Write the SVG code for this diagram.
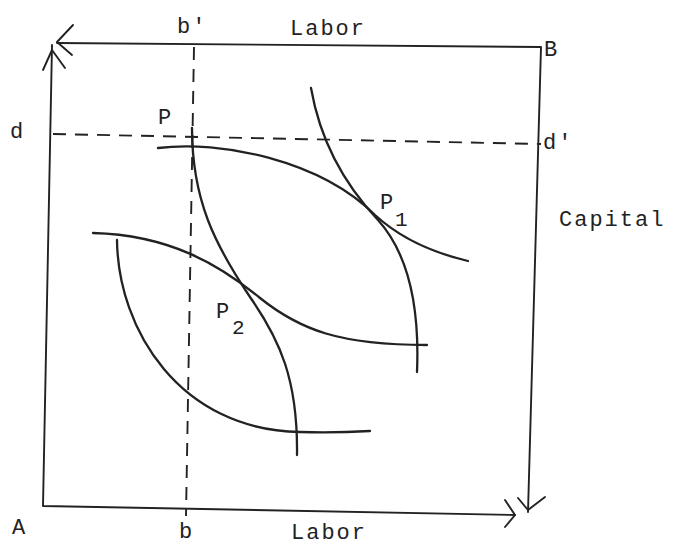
<svg xmlns="http://www.w3.org/2000/svg" width="675" height="547" viewBox="0 0 675 547">
<style>
.frame{fill:none;stroke:#222;stroke-width:1.9;stroke-linecap:round;stroke-linejoin:round}
.dash{fill:none;stroke:#222;stroke-width:1.9;stroke-dasharray:13 9}
.curve{fill:none;stroke:#222;stroke-width:2.3;stroke-linecap:round}
.lbl{font-family:"Liberation Mono","DejaVu Sans Mono",monospace;font-size:22px;fill:#222;letter-spacing:2px}
.sub{font-family:"Liberation Mono","DejaVu Sans Mono",monospace;font-size:21px;fill:#222}
</style>
<rect width="675" height="547" fill="#fff"/>
<g id="connectors">
  <path class="frame" d="M57,43 L541,47 L528,512"/>
  <path class="frame" d="M52,45 L43,506 L515,515"/>
  <path class="frame" d="M73,25 L57,42 L72,55"/>
  <path class="frame" d="M43,70 L52,50 L65,68"/>
  <path class="frame" d="M505,500 L515,515 L505,527"/>
  <path class="frame" d="M518,498 L528,510 L545,497"/>
  <path class="dash" d="M194,47 L186,516"/>
  <path class="dash" d="M53,134 L541,144"/>
</g>
<g id="curve1"><path class="curve" d="M158,148 C220,140 320,160 375,215 C400,238 430,252 468,261"/></g>
<g id="curve2"><path class="curve" d="M311,88 C320,140 345,185 378,220 C405,250 420,300 417,372"/></g>
<g id="curve3"><path class="curve" d="M192,128 C192,200 215,245 250,297 C280,340 298,380 297,455"/></g>
<g id="curve4"><path class="curve" d="M93,233 C170,235 220,265 260,298 C300,330 340,345 427,345"/></g>
<g id="curve5"><path class="curve" d="M117,240 C118,330 180,430 300,432 Q335,433 370,431"/></g>
<g id="labels">
  <text class="lbl" x="177" y="33">b′</text>
  <text class="lbl" x="290" y="35">Labor</text>
  <text class="lbl" x="544" y="56">B</text>
  <text class="lbl" x="10" y="138">d</text>
  <text class="lbl" x="158" y="124">P</text>
  <text class="lbl" x="543" y="149">d′</text>
  <text class="lbl" x="380" y="209">P</text>
  <text class="sub" x="395" y="226">1</text>
  <text class="lbl" x="559" y="226">Capital</text>
  <text class="lbl" x="216" y="318">P</text>
  <text class="sub" x="232" y="334">2</text>
  <text class="lbl" x="12" y="534">A</text>
  <text class="lbl" x="179" y="538">b</text>
  <text class="lbl" x="291" y="539">Labor</text>
</g>
</svg>
